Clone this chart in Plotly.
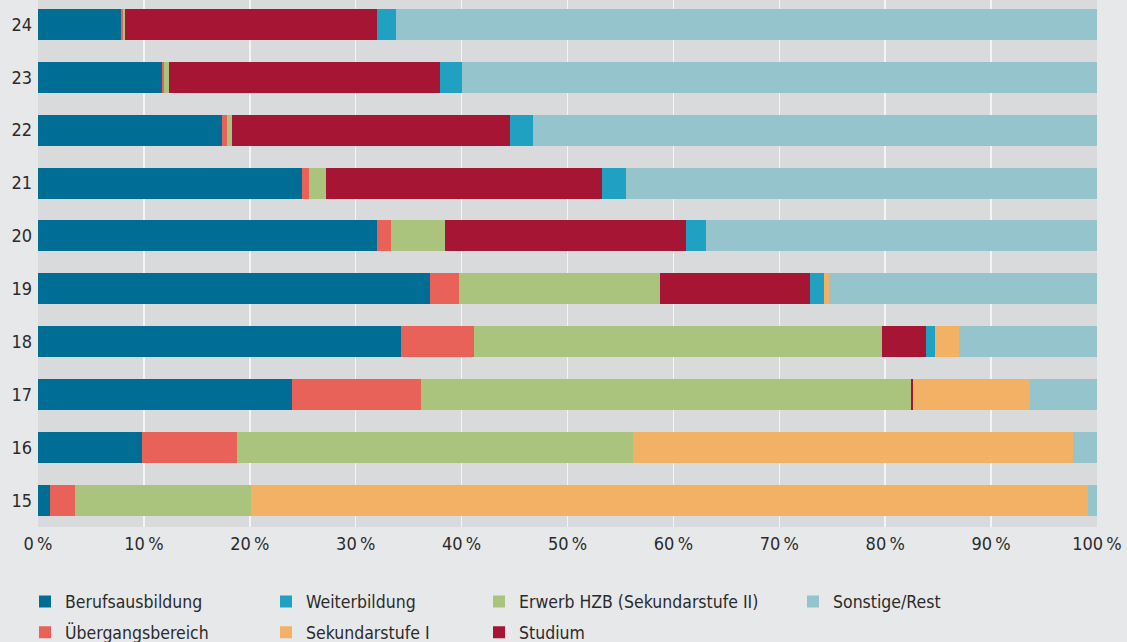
import plotly.graph_objects as go

ages = [15, 16, 17, 18, 19, 20, 21, 22, 23, 24]

berufsausbildung = [1.13, 9.83, 24.0, 34.29, 37.02, 32.0, 24.94, 17.4, 11.72, 7.85]
uebergangsbereich = [2.36, 8.97, 12.17, 6.87, 2.72, 1.32, 0.64, 0.47, 0.17, 0.17]
erwerb_hzb = [16.63, 37.4, 46.25, 38.54, 19.01, 5.1, 1.62, 0.47, 0.47, 0.2]
studium = [0.0, 0.0, 0.18, 4.15, 14.15, 22.76, 26.06, 26.26, 25.6, 23.78]
weiterbildung = [0.0, 0.0, 0.0, 0.85, 1.3, 1.91, 2.28, 2.1, 2.09, 1.8]
sekundarstufe_1 = [79.03, 41.55, 11.05, 2.3, 0.5, 0.0, 0.0, 0.0, 0.0, 0.0]
sonstige = [0.85, 2.25, 6.35, 13.0, 25.3, 36.91, 44.46, 53.3, 59.95, 66.2]

x_ticks = [0, 10, 20, 30, 40, 50, 60, 70, 80, 90, 100]
x_tick_labels = [f"{v}\u2009%" for v in x_ticks]

series = [
    ("Berufsausbildung", berufsausbildung, "#006e94", "legend"),
    ("Übergangsbereich", uebergangsbereich, "#e8625a", "legend"),
    ("Erwerb HZB (Sekundarstufe II)", erwerb_hzb, "#aac47d", "legend3"),
    ("Studium", studium, "#a71534", "legend3"),
    ("Weiterbildung", weiterbildung, "#21a1c1", "legend2"),
    ("Sekundarstufe I", sekundarstufe_1, "#f3b165", "legend2"),
    ("Sonstige/Rest", sonstige, "#96c4cc", "legend4"),
]

FONT = "DejaVu Sans Condensed, DejaVu Sans, sans-serif"
TXT = "#2b2b2b"

fig = go.Figure()
for name, vals, color, leg in series:
    fig.add_trace(go.Bar(
        y=ages, x=vals, name=name, orientation="h",
        marker=dict(color=color, line=dict(width=0)),
        width=0.586, legend=leg, legendgroup=name,
        hoverinfo="skip",
    ))

W, H = 1127, 642
leg_font = dict(family=FONT, size=17.5, color=TXT)
def legend_at(xpx):
    return dict(
        xref="container", yref="container",
        x=xpx / W, y=1 - 583.5 / H, xanchor="left", yanchor="top",
        orientation="v", bgcolor="rgba(0,0,0,0)", borderwidth=0,
        font=leg_font, tracegroupgap=5, itemclick=False, itemdoubleclick=False,
    )

fig.update_layout(
    width=W, height=H,
    margin=dict(l=38, r=30, t=0, b=115, pad=0, autoexpand=False),
    barmode="stack",
    paper_bgcolor="#e7e8ea",
    plot_bgcolor="#d9dadc",
    font=dict(family=FONT, size=18, color=TXT),
    xaxis=dict(
        range=[0, 100], tickvals=x_ticks, ticktext=x_tick_labels,
        showgrid=True, gridcolor="#f4f4f4", gridwidth=1.5,
        zeroline=False, showline=False, ticks="", ticklabelstandoff=4,
        tickfont=dict(family=FONT, size=18, color=TXT), fixedrange=True,
        automargin=False,
    ),
    yaxis=dict(
        range=[14.5, 24.46], tickvals=ages, ticktext=[str(a) for a in ages],
        showgrid=False, zeroline=False, showline=False, ticks="",
        ticklabelstandoff=5, automargin=False,
        tickfont=dict(family=FONT, size=18, color=TXT), fixedrange=True,
    ),
    legend=legend_at(25),
    legend2=legend_at(266),
    legend3=legend_at(479),
    legend4=legend_at(793),
    showlegend=True,
)

fig.write_html(
    "out.html",
    config={"staticPlot": True},
    post_script="document.body.style.margin='0';document.body.style.background='#e7e8ea';",
)
